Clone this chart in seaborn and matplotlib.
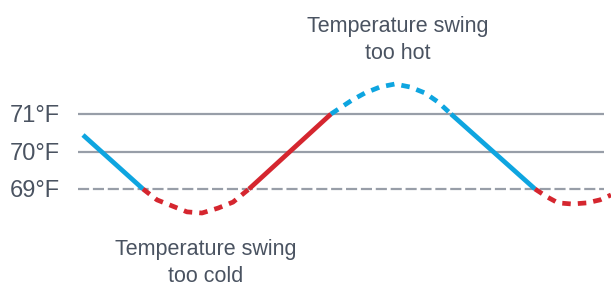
import seaborn as sns
from matplotlib import pyplot as plt
import pandas as pd
import numpy as np

sns.set_theme(style='white')
plt.rcParams['font.family'] = ['Liberation Sans', 'DejaVu Sans']

# values
minutes = [83, 143, 157, 172, 187, 202, 218, 233, 249, 331,
           352, 365, 380, 395, 410, 425, 438, 451, 535,
           547, 558, 572, 587, 600, 611]
temp = [70.44, 69.0, 68.71, 68.55, 68.39, 68.36, 68.49, 68.65, 69.0, 71.0,
        71.37, 71.56, 71.72, 71.8, 71.72, 71.56, 71.32, 71.0, 69.0,
        68.79, 68.63, 68.6, 68.63, 68.71, 68.84]
levels = [69, 70, 71]
level_labels = ['69°F', '70°F', '71°F']
low, high = 69, 71

BLUE = '#0ea5e0'
RED = '#d5262f'
GRAY = '#989ea8'
TEXT = '#4a5361'

df = pd.DataFrame({'minute': minutes, 'temp': temp})

fig = plt.figure(figsize=(6.11, 2.86), dpi=100)
ax = fig.add_axes([0, 0, 1, 1])

# reference lines
for lv, lab in zip(levels, level_labels):
    ls = (0, (5, 1.7)) if lv == low else '-'
    ax.hlines(lv, 78, 604, color=GRAY, linewidth=1.6, linestyle=ls, zorder=1)
    ax.text(59.5, lv - 0.22, lab, ha='right', va='baseline', fontsize=17, color=TEXT)

# split curve at the threshold crossings
breaks = [i for i, t in enumerate(temp) if t in (low, high)]
bounds = [0] + breaks + [len(temp) - 1]
for a, b in zip(bounds[:-1], bounds[1:]):
    seg = df.iloc[a:b + 1]
    mid = seg['temp'].mean()
    if mid > high:
        color, ls = BLUE, (0, (1.8, 1.5))
    elif mid < low:
        color, ls = RED, (0, (1.8, 1.5))
    elif seg['temp'].iloc[-1] > seg['temp'].iloc[0]:
        color, ls = RED, '-'
    else:
        color, ls = BLUE, '-'
    sns.lineplot(x='minute', y='temp', data=seg, ax=ax, color=color, linewidth=3.4,
                 linestyle=ls, sort=False, estimator=None, zorder=3)
    line = ax.lines[-1]
    line.set_dash_capstyle('butt')
    line.set_solid_capstyle('butt')
    line.set_solid_joinstyle('round')

ax.text(206, 67.02, 'Temperature swing\ntoo cold', ha='center', va='center',
        fontsize=15.5, color=TEXT, linespacing=1.35)
ax.text(398, 72.98, 'Temperature swing\ntoo hot', ha='center', va='center',
        fontsize=15.5, color=TEXT, linespacing=1.35)

ax.set_xlim(0, 611)
ax.set_ylim(71 - 172 / 37.5, 71 + 114 / 37.5)
ax.set_xlabel('')
ax.set_ylabel('')
ax.set_xticks([])
ax.set_yticks([])
sns.despine(ax=ax, left=True, bottom=True)

plt.savefig('out.png', dpi=100)
